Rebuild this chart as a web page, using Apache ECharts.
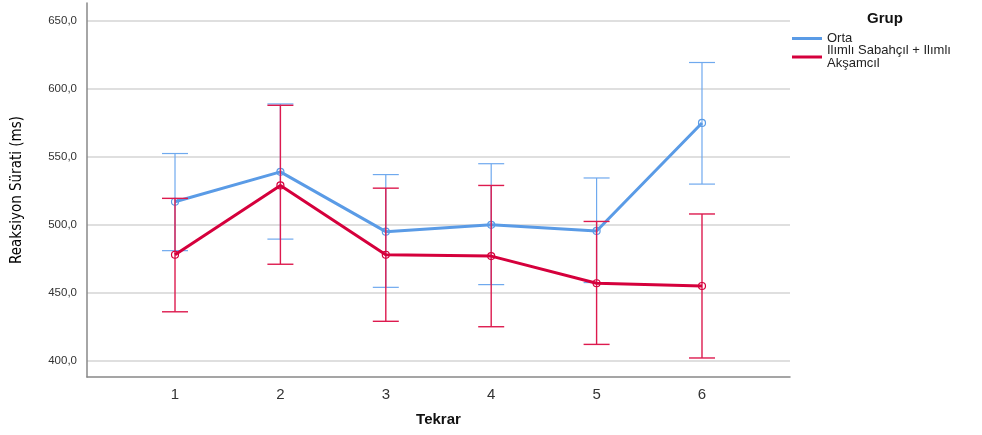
<!DOCTYPE html>
<html>
<head>
<meta charset="utf-8">
<script src="https://cdn.jsdelivr.net/npm/echarts@6/dist/echarts.min.js"></script>
<style>
  html, body { margin: 0; padding: 0; background: #fff; }
  #chart { width: 982px; height: 435px; }
</style>
</head>
<body>
<div id="chart"></div>
<script>
const tekrar = [1, 2, 3, 4, 5, 6]
const yTicks = [400, 450, 500, 550, 600, 650]

// Orta
const ortaMean = [517, 539, 495, 500, 495.5, 575]
const ortaLow = [481, 489.5, 454, 456, 457.5, 530]
const ortaHigh = [552.5, 589, 537, 545, 534.5, 619.5]

// Ilımlı Sabahçıl + Ilımlı Akşamcıl
const ilimliMean = [478, 529, 478, 477, 457, 455]
const ilimliLow = [436, 471, 429, 425, 412, 402]
const ilimliHigh = [519.5, 588, 527, 529, 502.5, 508]

const BLUE = '#5a9be6'
const RED = '#d5003c'
const FONT = 'Liberation Sans, Arial, sans-serif'
const ORTA = 'Orta'
const ILIMLI = 'Ilımlı Sabahçıl + Ilımlı Akşamcıl'

const pairs = (xs, ys) => xs.map((x, i) => [x, ys[i]])
const bars = (xs, lo, hi) => xs.map((x, i) => [x, lo[i], hi[i]])

const errorBar = (color, width) => (params, api) => {
  const x = api.value(0)
  const lo = api.coord([x, api.value(1)])
  const hi = api.coord([x, api.value(2)])
  const half = 13
  const style = { stroke: color, lineWidth: width }
  return {
    type: 'group',
    children: [
      { type: 'line', shape: { x1: lo[0], y1: lo[1], x2: hi[0], y2: hi[1] }, style },
      { type: 'line', shape: { x1: hi[0] - half, y1: hi[1], x2: hi[0] + half, y2: hi[1] }, style },
      { type: 'line', shape: { x1: lo[0] - half, y1: lo[1], x2: lo[0] + half, y2: lo[1] }, style }
    ]
  }
}

const chart = echarts.init(document.getElementById('chart'))

const option = {
  backgroundColor: '#fff',
  animation: false,
  title: {
    text: 'Grup',
    left: 862,
    top: 6,
    textStyle: { fontFamily: FONT, fontSize: 15, fontWeight: 'bold', color: '#111' }
  },
  legend: {
    data: [
      { name: ORTA, itemStyle: { color: BLUE, borderWidth: 0 } },
      { name: ILIMLI, itemStyle: { color: RED, borderWidth: 0 } }
    ],
    orient: 'vertical',
    left: 787,
    top: 27,
    itemGap: -1,
    itemWidth: 30,
    itemHeight: 3,
    icon: 'rect',
    formatter: (name) => name === ORTA ? name : 'Ilımlı Sabahçıl + Ilımlı\nAkşamcıl',
    textStyle: { fontFamily: FONT, fontSize: 13, color: '#222', lineHeight: 13 }
  },
  grid: {
    left: 87,
    right: 192,
    top: 3,
    bottom: 58,
    containLabel: false
  },
  xAxis: {
    type: 'value',
    min: 0.165,
    max: 6.835,
    name: 'Tekrar',
    nameLocation: 'middle',
    nameGap: 35,
    nameTextStyle: { fontFamily: FONT, fontSize: 15, fontWeight: 'bold', color: '#111' },
    axisLine: { show: true, lineStyle: { color: '#888', width: 1.5 } },
    axisTick: { show: false, customValues: tekrar },
    axisLabel: {
      customValues: tekrar,
      fontFamily: FONT,
      fontSize: 15,
      color: '#333',
      margin: 10
    },
    splitLine: { show: false }
  },
  yAxis: {
    type: 'value',
    min: 388,
    max: 663.3,
    name: 'Reaksiyon Sürati (ms)',
    nameLocation: 'middle',
    nameGap: 62,
    nameTextStyle: { fontFamily: 'DejaVu Sans Condensed, Liberation Sans, sans-serif', fontSize: 15, color: '#000' },
    axisLine: { show: true, lineStyle: { color: '#888', width: 1.5 } },
    axisTick: { show: false, customValues: yTicks },
    axisLabel: {
      customValues: yTicks,
      fontFamily: FONT,
      fontSize: 11.5,
      color: '#333',
      margin: 10,
      formatter: (v) => v.toFixed(1).replace('.', ',')
    },
    splitLine: { show: true, lineStyle: { color: '#d4d4d4', width: 1.5 } }
  },
  series: [
    {
      name: 'Orta hata',
      type: 'custom',
      renderItem: errorBar('#6fa9ee', 1.2),
      encode: { x: 0, y: [1, 2] },
      data: bars(tekrar, ortaLow, ortaHigh),
      z: 2
    },
    {
      name: ORTA,
      type: 'line',
      data: pairs(tekrar, ortaMean),
      symbol: 'circle',
      symbolSize: 7,
      color: BLUE,
      lineStyle: { width: 3, color: BLUE },
      itemStyle: { color: 'rgba(0,0,0,0)', borderColor: BLUE, borderWidth: 1.2 },
      z: 3
    },
    {
      name: 'Ilımlı hata',
      type: 'custom',
      renderItem: errorBar('#dd1a4e', 1.4),
      encode: { x: 0, y: [1, 2] },
      data: bars(tekrar, ilimliLow, ilimliHigh),
      z: 4
    },
    {
      name: ILIMLI,
      type: 'line',
      data: pairs(tekrar, ilimliMean),
      symbol: 'circle',
      symbolSize: 7,
      color: RED,
      lineStyle: { width: 3, color: RED },
      itemStyle: { color: 'rgba(0,0,0,0)', borderColor: RED, borderWidth: 1.2 },
      z: 5
    }
  ]
}

chart.setOption(option)
window.addEventListener('resize', () => chart.resize())
</script>
</body>
</html>
